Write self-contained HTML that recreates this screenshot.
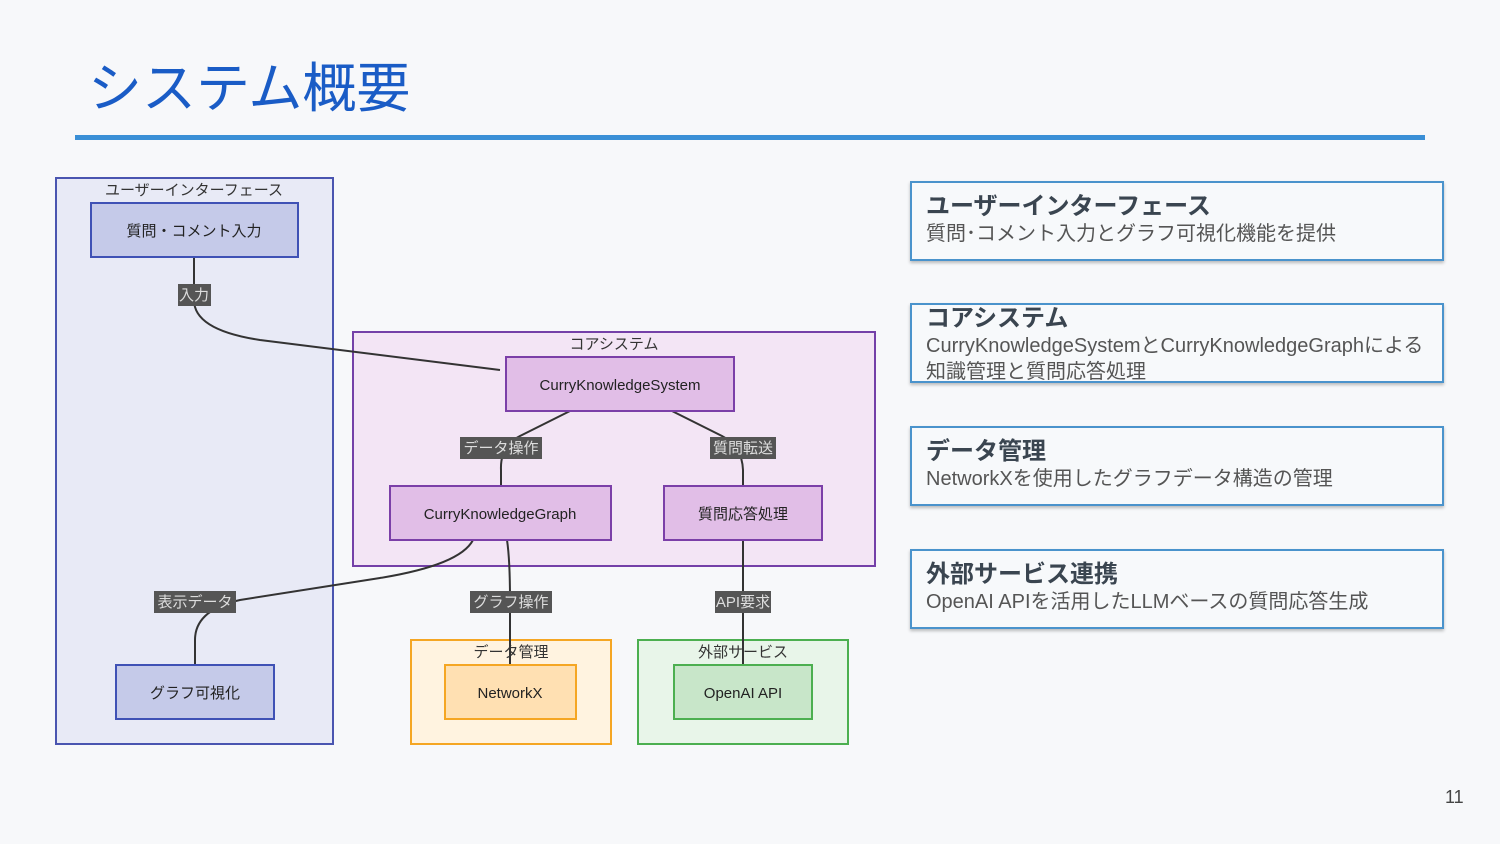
<!DOCTYPE html>
<html><head><meta charset="utf-8"><style>
body{margin:0;width:1500px;height:844px;background:#f7f8fa;font-family:"Liberation Sans","Noto Sans CJK JP",sans-serif;position:relative;overflow:hidden}
.t{position:absolute;left:88px;top:62px;font-size:54px;color:#1a5cc6;line-height:1}
.hr{position:absolute;left:75px;top:135px;width:1350px;height:5px;background:#3a8fd6}
.card{position:absolute;left:910px;width:534px;height:80px;border:2px solid #4a93cc;background:#f7f9fb;box-shadow:0 2px 3px rgba(0,0,0,.25);box-sizing:border-box;padding:10px 14px;color:#555;overflow:hidden}
.card b{display:block;font-size:24px;color:#3a4550;line-height:28px;font-weight:bold}
.card span{display:block;font-size:20px;line-height:26px}
.pn{position:absolute;left:1445px;top:787px;font-size:18px;color:#444}
</style></head><body>
<div class="t">システム概要</div>
<div class="hr"></div>
<svg width="1500" height="844" style="position:absolute;left:0;top:0" font-family="Liberation Sans, Noto Sans CJK JP, sans-serif">
<rect x="56" y="178" width="277" height="566" fill="#e8eaf6" stroke="#4a55b0" stroke-width="2"/>
<text x="194" y="195" font-size="15" text-anchor="middle" fill="#333">ユーザーインターフェース</text>
<rect x="353" y="332" width="522" height="234" fill="#f3e5f5" stroke="#7440a8" stroke-width="2"/>
<text x="614" y="349" font-size="15" text-anchor="middle" fill="#333">コアシステム</text>
<rect x="411" y="640" width="200" height="104" fill="#fff3e0" stroke="#f5a623" stroke-width="2"/>
<text x="511" y="657" font-size="15" text-anchor="middle" fill="#333">データ管理</text>
<rect x="638" y="640" width="210" height="104" fill="#e8f5e9" stroke="#4caf50" stroke-width="2"/>
<text x="743" y="657" font-size="15" text-anchor="middle" fill="#333">外部サービス</text>
<g fill="none" stroke="#333" stroke-width="2">
<path d="M194 257 V300 Q194 330 260 340 L500 370"/>
<path d="M570 411 L520 436 Q500 446 501 470 V486"/>
<path d="M672 411 L722 436 Q742 446 743 470 V486"/>
<path d="M473 540 Q460 565 380 578 L240 600 Q195 610 195 640 V665"/>
<path d="M507 540 Q510 560 510 600 V665"/>
<path d="M743 540 V665"/>
</g>
<rect x="91" y="203" width="207" height="54" fill="#c5cae9" stroke="#3f51b5" stroke-width="2"/>
<text x="194" y="236" font-size="15" text-anchor="middle" fill="#222">質問・コメント入力</text>
<rect x="116" y="665" width="158" height="54" fill="#c5cae9" stroke="#3f51b5" stroke-width="2"/>
<text x="195" y="698" font-size="15" text-anchor="middle" fill="#222">グラフ可視化</text>
<rect x="506" y="357" width="228" height="54" fill="#e1bee7" stroke="#7b3fa8" stroke-width="2"/>
<text x="620" y="390" font-size="15" text-anchor="middle" fill="#222">CurryKnowledgeSystem</text>
<rect x="390" y="486" width="221" height="54" fill="#e1bee7" stroke="#7b3fa8" stroke-width="2"/>
<text x="500" y="519" font-size="15" text-anchor="middle" fill="#222">CurryKnowledgeGraph</text>
<rect x="664" y="486" width="158" height="54" fill="#e1bee7" stroke="#7b3fa8" stroke-width="2"/>
<text x="743" y="519" font-size="15" text-anchor="middle" fill="#222">質問応答処理</text>
<rect x="445" y="665" width="131" height="54" fill="#ffe0b2" stroke="#f5a623" stroke-width="2"/>
<text x="510" y="698" font-size="15" text-anchor="middle" fill="#222">NetworkX</text>
<rect x="674" y="665" width="138" height="54" fill="#c8e6c9" stroke="#4caf50" stroke-width="2"/>
<text x="743" y="698" font-size="15" text-anchor="middle" fill="#222">OpenAI API</text>
<g font-size="15" fill="#ddd" text-anchor="middle">
<rect x="178" y="284" width="33" height="22" fill="#555"/><text x="194" y="300">入力</text>
<rect x="460" y="437" width="82" height="22" fill="#555"/><text x="501" y="453">データ操作</text>
<rect x="710" y="437" width="66" height="22" fill="#555"/><text x="743" y="453">質問転送</text>
<rect x="154" y="591" width="82" height="22" fill="#555"/><text x="195" y="607">表示データ</text>
<rect x="470" y="591" width="82" height="22" fill="#555"/><text x="511" y="607">グラフ操作</text>
<rect x="715" y="591" width="56" height="22" fill="#555"/><text x="743" y="607">API要求</text>
</g>
</svg>
<div class="card" style="top:181px"><b>ユーザーインターフェース</b><span>質問･コメント入力とグラフ可視化機能を提供</span></div>
<div class="card" style="top:303px;padding-top:0"><b>コアシステム</b><span>CurryKnowledgeSystemとCurryKnowledgeGraphによる知識管理と質問応答処理</span></div>
<div class="card" style="top:426px"><b>データ管理</b><span>NetworkXを使用したグラフデータ構造の管理</span></div>
<div class="card" style="top:549px"><b>外部サービス連携</b><span>OpenAI APIを活用したLLMベースの質問応答生成</span></div>
<div class="pn">11</div>
</body></html>
